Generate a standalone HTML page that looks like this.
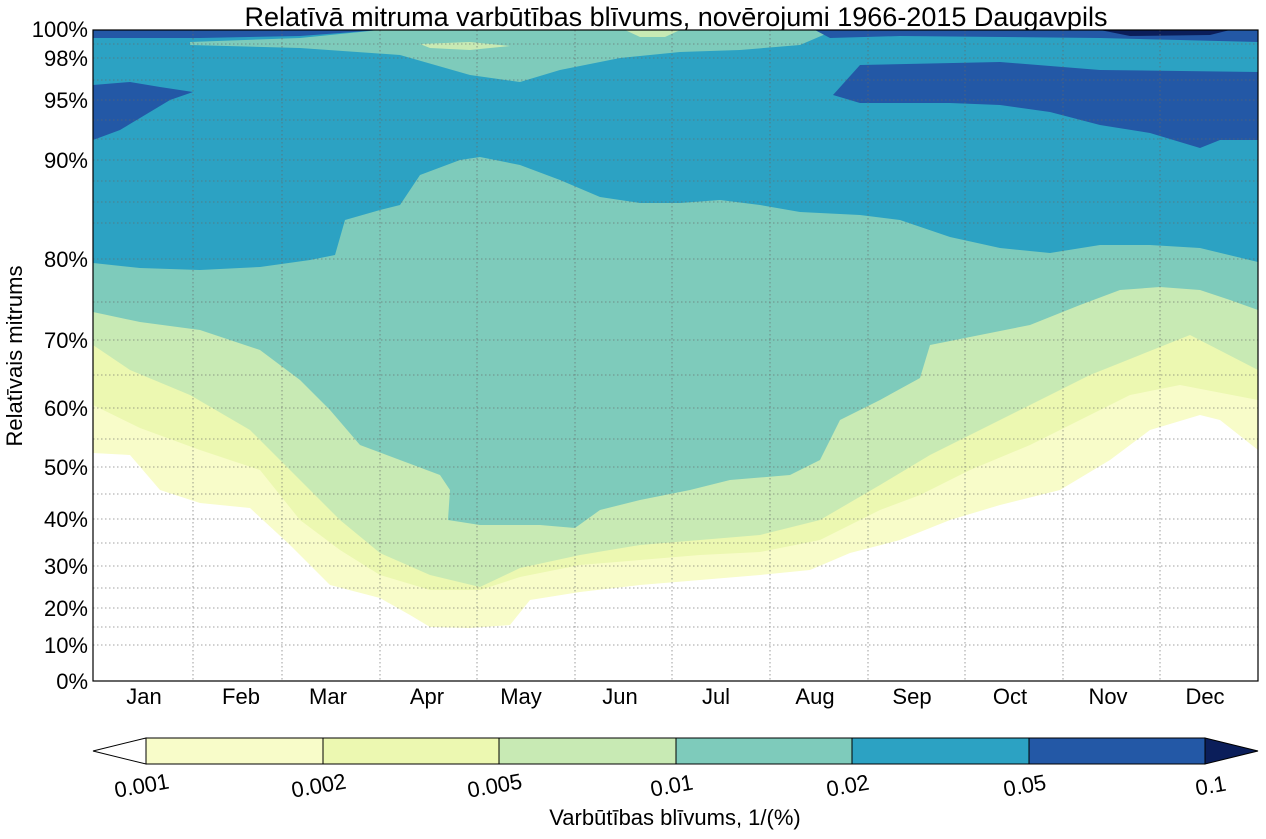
<!DOCTYPE html>
<html><head><meta charset="utf-8"><style>body{margin:0;background:#fff}svg text{font-family:"Liberation Sans",Arial,sans-serif;fill:#000}</style></head><body>
<svg width="1266" height="834" xmlns="http://www.w3.org/2000/svg">
<rect width="1266" height="834" fill="#fff"/>
<text x="676" y="26" font-size="27" text-anchor="middle">Relatīvā mitruma varbūtības blīvums, novērojumi 1966-2015 Daugavpils</text>
<clipPath id="c"><rect x="93" y="30" width="1165" height="651"/></clipPath>
<g clip-path="url(#c)">
<polygon fill="#f8fcc9" points="93,30 93,453 130,455 160,490 200,503 250,508 290,545 330,585 380,598 410,615 430,627 470,628 510,625 530,600 580,592 640,585 700,580 760,575 810,570 850,553 900,540 950,520 1000,505 1060,490 1110,460 1150,430 1200,415 1220,420 1258,450 1258,30"/>
<polygon fill="#ecf8b1" points="93,30 93,405 140,428 200,450 260,470 300,520 340,550 380,575 430,590 480,590 520,577 580,565 640,560 700,555 760,552 820,540 880,510 920,495 970,470 1030,445 1080,420 1130,395 1180,385 1258,400 1258,30"/>
<polygon fill="#c8eab4" points="93,30 93,345 130,370 190,395 250,430 300,480 340,520 380,553 430,575 480,587 520,568 580,555 640,545 700,540 760,535 820,520 880,485 930,455 980,430 1040,400 1090,375 1140,355 1190,335 1258,370 1258,30"/>
<polygon fill="#7ecbbb" points="93,30 93,312 140,322 200,330 260,350 300,380 330,410 360,445 400,460 440,475 450,490 448,520 480,525 540,525 575,528 600,510 640,500 690,490 730,480 790,475 820,460 840,420 880,400 920,378 930,345 980,335 1030,325 1080,305 1120,290 1160,287 1200,290 1230,300 1258,310 1258,30"/>
<polygon fill="#2ca2c3" points="93,30 93,263 140,268 200,270 260,267 310,260 335,255 345,220 380,210 400,205 420,175 460,160 480,157 520,165 560,180 600,197 640,203 680,203 720,200 760,205 800,212 860,215 900,220 950,237 1000,248 1050,253 1100,245 1150,245 1200,248 1258,262 1258,30"/>
<polygon fill="#2358a6" points="833,95 860,65 1000,62 1100,70 1258,72 1258,140 1220,140 1200,148 1150,133 1100,125 1050,112 1000,105 950,103 900,103 860,103"/>
<polygon fill="#2358a6" points="93,85 130,82 160,87 193,92 170,100 140,118 120,130 93,140"/>
<polygon fill="#7ecbbb" points="190,45 300,48 400,55 470,75 520,82 560,70 620,58 680,52 740,50 800,45 835,30 380,30 300,38 190,42"/>
<polygon fill="#c8eab4" points="420,44 470,42 510,46 470,50 430,48"/>
<polygon fill="#c8eab4" points="625,30 680,30 665,37 640,37"/>
<polygon fill="#2358a6" points="93,30 380,30 300,36 200,38 93,38"/>
<polygon fill="#2358a6" points="815,30 1258,30 1258,42 1180,40 1100,38 900,36 830,38"/>
<polygon fill="#0b1e5a" points="1100,30 1230,30 1210,35 1130,36"/>
</g>
<g stroke="#666" stroke-width="0.8" stroke-dasharray="1.5,2.5" fill="none" opacity="0.8">
<path d="M193 30V681M282 30V681M380 30V681M477 30V681M575 30V681M672 30V681M770 30V681M868 30V681M965 30V681M1063 30V681M1160 30V681"/>
<path d="M93 645H1258M93 608H1258M93 566H1258M93 519H1258M93 467H1258M93 408H1258M93 340H1258M93 259H1258M93 160H1258M93 100H1258M93 58H1258M93 627H1258M93 588H1258M93 543H1258M93 494H1258M93 439H1258M93 375H1258M93 302H1258M93 223H1258M93 202H1258M93 181H1258M93 139H1258M93 120H1258M93 80H1258M93 44H1258"/>
</g>
<rect x="93" y="30" width="1165" height="651" fill="none" stroke="#000" stroke-width="1.2"/>
<g font-size="22" text-anchor="end">
<text x="88" y="689">0%</text><text x="88" y="653">10%</text><text x="88" y="616">20%</text><text x="88" y="574">30%</text><text x="88" y="527">40%</text><text x="88" y="475">50%</text><text x="88" y="416">60%</text><text x="88" y="348">70%</text><text x="88" y="267">80%</text><text x="88" y="168">90%</text><text x="88" y="108">95%</text><text x="88" y="66">98%</text><text x="88" y="37">100%</text>
</g>
<g font-size="22" text-anchor="middle">
<text x="144" y="704">Jan</text><text x="241" y="704">Feb</text><text x="328" y="704">Mar</text><text x="427" y="704">Apr</text><text x="521" y="704">May</text><text x="620" y="704">Jun</text><text x="716" y="704">Jul</text><text x="815" y="704">Aug</text><text x="912" y="704">Sep</text><text x="1010" y="704">Oct</text><text x="1108" y="704">Nov</text><text x="1205" y="704">Dec</text>
</g>
<text transform="translate(22,356) rotate(-90)" font-size="22" text-anchor="middle">Relatīvais mitrums</text>
<g stroke="#000" stroke-width="1">
<polygon fill="#fff" points="146,738 93,751 146,764"/>
<rect x="146" y="738" width="177" height="26" fill="#f8fcc9"/>
<rect x="323" y="738" width="176" height="26" fill="#ecf8b1"/>
<rect x="499" y="738" width="177" height="26" fill="#c8eab4"/>
<rect x="676" y="738" width="176" height="26" fill="#7ecbbb"/>
<rect x="852" y="738" width="177" height="26" fill="#2ca2c3"/>
<rect x="1029" y="738" width="176" height="26" fill="#2358a6"/>
<polygon fill="#0b1e5a" points="1205,738 1258,751 1205,764"/>
</g>
<g font-size="22" text-anchor="middle">
<text transform="translate(143,793) rotate(-10)">0.001</text>
<text transform="translate(320,793) rotate(-10)">0.002</text>
<text transform="translate(496,793) rotate(-10)">0.005</text>
<text transform="translate(673,793) rotate(-10)">0.01</text>
<text transform="translate(849,793) rotate(-10)">0.02</text>
<text transform="translate(1026,793) rotate(-10)">0.05</text>
<text transform="translate(1212,793) rotate(-10)">0.1</text>
</g>
<text x="675" y="825" font-size="22" text-anchor="middle">Varbūtības blīvums, 1/(%)</text>
</svg>
</body></html>
